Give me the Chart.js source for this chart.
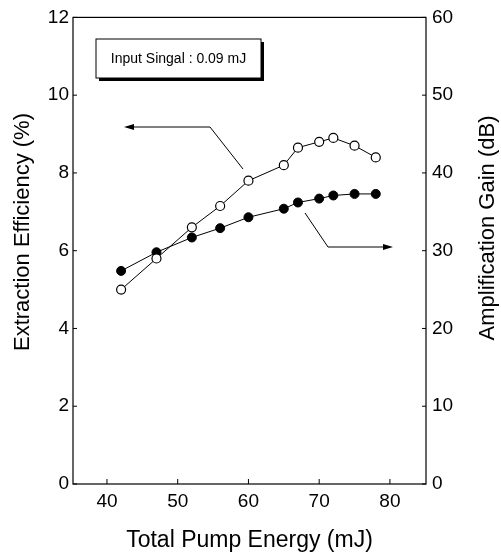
<!DOCTYPE html>
<html>
<head>
<meta charset="utf-8">
<script src="https://cdn.jsdelivr.net/npm/chart.js@4/dist/chart.umd.min.js"></script>
<style>
  html, body { margin: 0; padding: 0; background: #fff; }
  #wrap { width: 501px; height: 555px; }
</style>
</head>
<body>
<div id="wrap"><canvas id="myChart" width="501" height="555"></canvas></div>
<script>
// values
const pumpEnergy = [42, 47, 52, 56, 60, 65, 67, 70, 72, 75, 78];
const efficiency = [5.0, 5.8, 6.6, 7.15, 7.8, 8.2, 8.65, 8.8, 8.9, 8.7, 8.4];
const gain = [27.4, 29.8, 31.7, 32.9, 34.3, 35.4, 36.2, 36.7, 37.1, 37.3, 37.3];
const xTicks = [40, 50, 60, 70, 80];
const yLeftTicks = [0, 2, 4, 6, 8, 10, 12];
const yRightTicks = [0, 10, 20, 30, 40, 50, 60];

const font = 'Liberation Sans, Arial, sans-serif';

// inward ticks, box border, y titles, note box and the two arrows
const decorations = {
    id: 'decorations',
    afterDraw(chart) {
        const ctx = chart.ctx;
        const a = chart.chartArea;
        const x = chart.scales.x, yl = chart.scales.y, yr = chart.scales.y2;
        ctx.save();
        ctx.strokeStyle = '#000';
        ctx.lineWidth = 1.2;
        ctx.strokeRect(a.left, a.top, a.right - a.left, a.bottom - a.top);

        ctx.lineWidth = 1;
        ctx.beginPath();
        xTicks.forEach(v => {
            const px = x.getPixelForValue(v);
            ctx.moveTo(px, a.bottom); ctx.lineTo(px, a.bottom - 5);
        });
        yLeftTicks.forEach(v => {
            const py = yl.getPixelForValue(v);
            ctx.moveTo(a.left, py); ctx.lineTo(a.left + 4, py);
        });
        yRightTicks.forEach(v => {
            const py = yr.getPixelForValue(v);
            ctx.moveTo(a.right, py); ctx.lineTo(a.right - 4, py);
        });
        ctx.stroke();

        // y axis titles, both reading upwards
        const vTitle = (text, cx, cy) => {
            ctx.save();
            ctx.translate(cx, cy);
            ctx.rotate(-Math.PI / 2);
            ctx.fillStyle = '#000';
            ctx.font = '22px ' + font;
            ctx.textAlign = 'center';
            ctx.textBaseline = 'middle';
            ctx.fillText(text, 0, 0);
            ctx.restore();
        };
        vTitle('Extraction Efficiency (%)', 23, 232);
        vTitle('Amplification Gain (dB)', 488, 228);

        // note box with shadow
        const bx = 96, by = 39, bw = 165, bh = 39;
        ctx.fillStyle = '#000';
        ctx.fillRect(bx + 3, by + 3, bw, bh);
        ctx.fillStyle = '#fff';
        ctx.fillRect(bx, by, bw, bh);
        ctx.strokeRect(bx, by, bw, bh);
        ctx.fillStyle = '#000';
        ctx.font = '14px ' + font;
        ctx.textBaseline = 'middle';
        ctx.textAlign = 'center';
        ctx.fillText('Input Singal : 0.09 mJ', bx + bw / 2, by + bh / 2 + 1);

        // arrows pointing to each series' axis
        const arrow = (pts, tip, dir) => {
            ctx.beginPath();
            ctx.moveTo(pts[0][0], pts[0][1]);
            pts.slice(1).forEach(p => ctx.lineTo(p[0], p[1]));
            ctx.stroke();
            ctx.beginPath();
            ctx.moveTo(tip[0], tip[1]);
            ctx.lineTo(tip[0] - dir * 10, tip[1] - 3);
            ctx.lineTo(tip[0] - dir * 10, tip[1] + 3);
            ctx.closePath();
            ctx.fill();
        };
        arrow([[243, 169], [210, 127], [127, 127]], [124, 127], -1);
        arrow([[305, 213], [328, 247], [390, 247]], [393, 247], 1);
        ctx.restore();
    }
};

const ctx = document.getElementById('myChart').getContext('2d');
const myChart = new Chart(ctx, {
    type: 'line',
    data: {
        datasets: [
            {
                label: 'Extraction Efficiency',
                data: pumpEnergy.map((e, i) => ({ x: e, y: efficiency[i] })),
                yAxisID: 'y',
                borderColor: '#000',
                borderWidth: 1,
                pointRadius: 4.5,
                pointBackgroundColor: '#fff',
                pointBorderColor: '#000',
                pointBorderWidth: 1.2,
                tension: 0
            },
            {
                label: 'Amplification Gain',
                data: pumpEnergy.map((e, i) => ({ x: e, y: gain[i] })),
                yAxisID: 'y2',
                borderColor: '#000',
                borderWidth: 1,
                pointRadius: 4.5,
                pointBackgroundColor: '#000',
                pointBorderColor: '#000',
                pointBorderWidth: 1,
                tension: 0
            }
        ]
    },
    options: {
        responsive: false,
        animation: false,
        layout: { padding: { top: 15, left: 0, right: 0, bottom: 0 } },
        plugins: { legend: { display: false }, tooltip: { enabled: false } },
        scales: {
            x: {
                type: 'linear',
                min: 35.2,
                max: 85.1,
                afterBuildTicks: s => { s.ticks = xTicks.map(v => ({ value: v })); },
                afterFit: s => { s.height = 71; },
                grid: { display: false, drawTicks: false },
                border: { display: false },
                ticks: { color: '#000', font: { family: font, size: 19 }, padding: 6 },
                title: {
                    display: true, text: 'Total Pump Energy (mJ)', color: '#000',
                    font: { family: font, size: 23 }, padding: { top: 0, bottom: 1 }
                }
            },
            y: {
                position: 'left',
                min: 0,
                max: 12,
                afterBuildTicks: s => { s.ticks = yLeftTicks.map(v => ({ value: v })); },
                afterFit: s => { s.width = 73; },
                grid: { display: false, drawTicks: false },
                border: { display: false },
                ticks: { color: '#000', font: { family: font, size: 19 }, padding: 4 }
            },
            y2: {
                position: 'right',
                min: 0,
                max: 60,
                afterBuildTicks: s => { s.ticks = yRightTicks.map(v => ({ value: v })); },
                afterFit: s => { s.width = 75; },
                grid: { display: false, drawTicks: false },
                border: { display: false },
                ticks: { color: '#000', font: { family: font, size: 19 }, padding: 6 }
            }
        }
    },
    plugins: [decorations]
});
</script>
</body>
</html>
